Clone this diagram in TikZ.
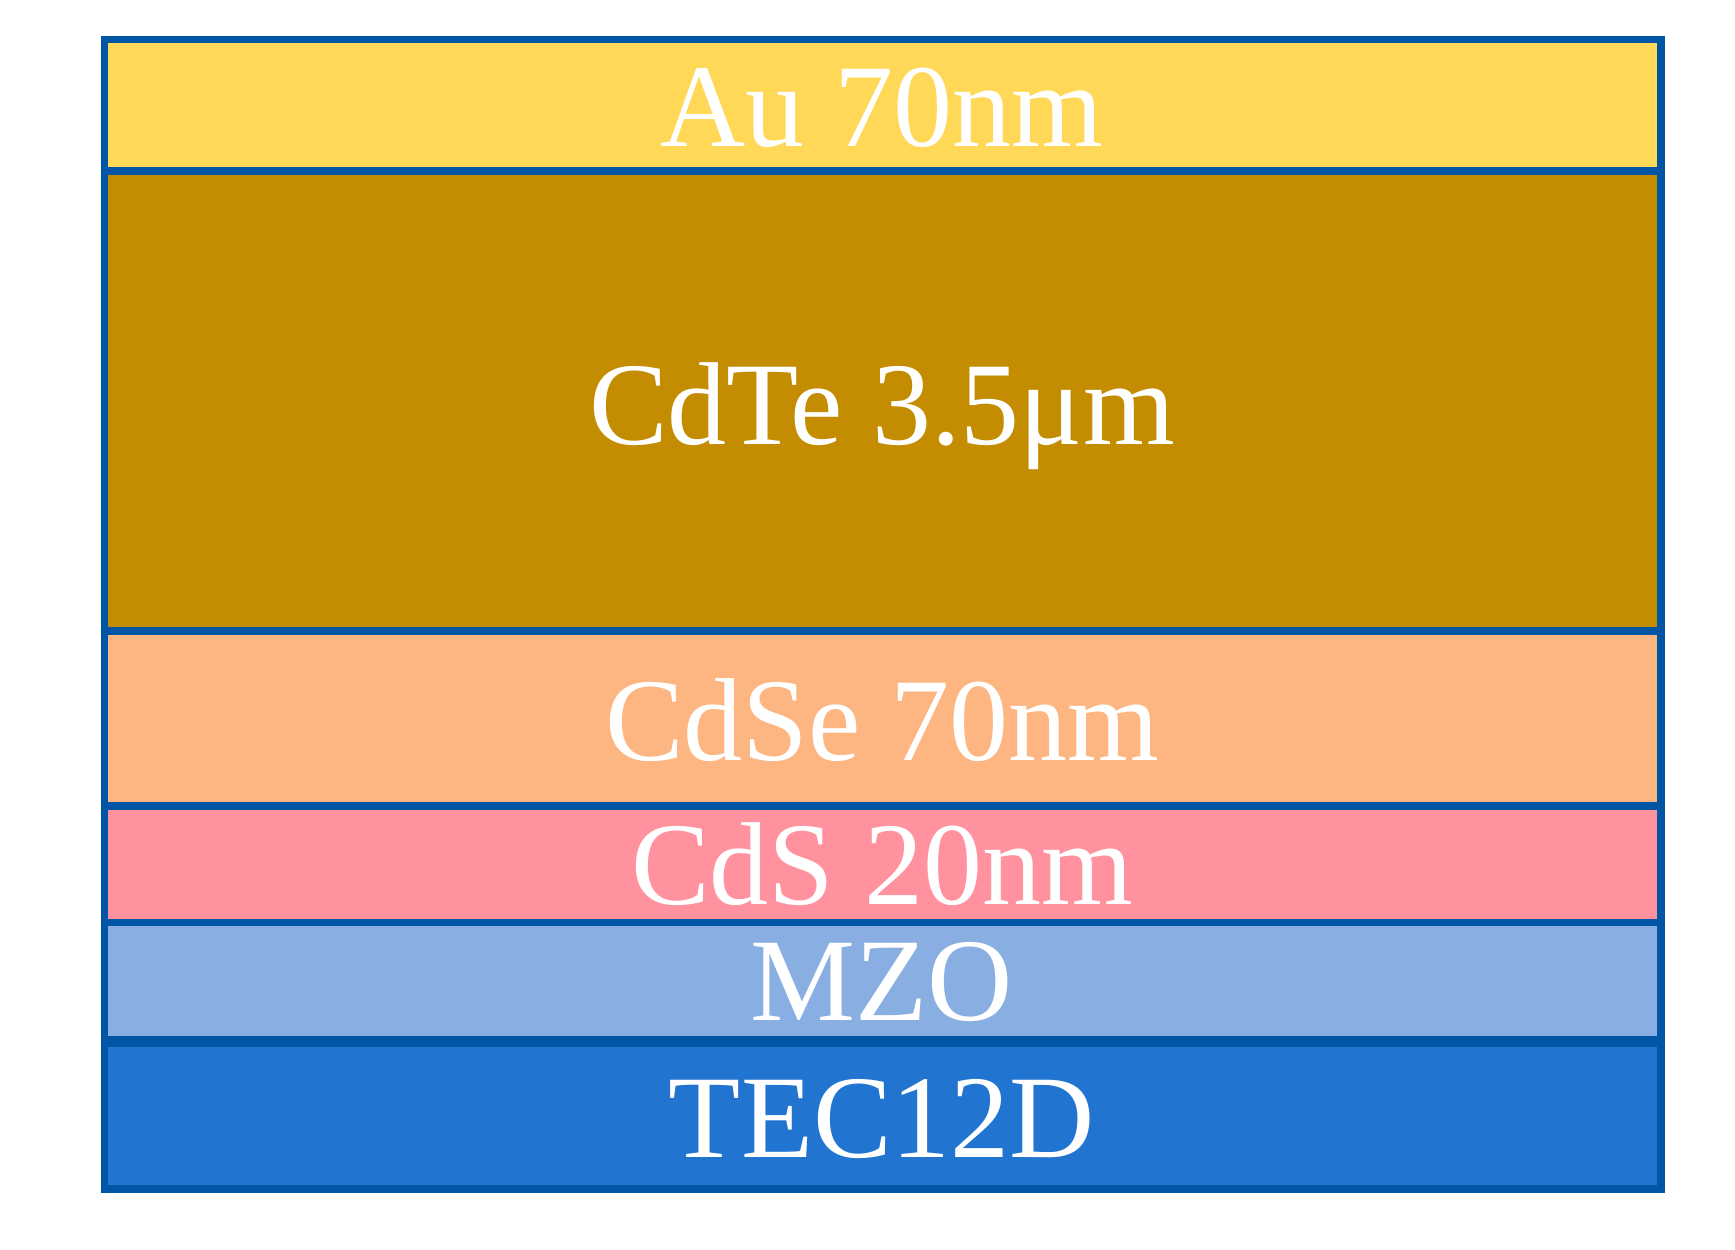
\documentclass[tikz,border=0pt]{standalone}
\usepackage{fontspec}
\setmainfont{Liberation Serif}
\definecolor{cAu}{RGB}{255,216,87}
\definecolor{cCdTe}{RGB}{196,140,0}
\definecolor{cCdSe}{RGB}{253,181,129}
\definecolor{cCdS}{RGB}{255,146,158}
\definecolor{cMZO}{RGB}{136,174,226}
\definecolor{cTEC}{RGB}{33,117,208}
\definecolor{cEdge}{RGB}{0,85,165}
\tikzset{
  lbl/.style={anchor=base, text=white, inner sep=0pt, font=\fontsize{118}{120}\selectfont},
  sep/.style={draw=cEdge, line width=7.5pt},
}
\begin{document}
\begin{tikzpicture}[x=1pt,y=-1pt]
\useasboundingbox (0,0) rectangle (1735,1250);
% layers
\fill[cAu]   (104.5,39.5) rectangle (1661,171);
\fill[cCdTe] (104.5,171)  rectangle (1661,631);
\fill[cCdSe] (104.5,631)  rectangle (1661,806);
\fill[cCdS]  (104.5,806)  rectangle (1661,922.5);
\fill[cMZO]  (104.5,922.5) rectangle (1661,1041);
\fill[cTEC]  (104.5,1041) rectangle (1661,1189);
% separators
\draw[sep] (104.5,171) -- (1661,171);
\draw[sep] (104.5,631) -- (1661,631);
\draw[sep] (104.5,806) -- (1661,806);
\draw[sep] (104.5,922.5) -- (1661,922.5);
\draw[sep, line width=11pt] (104.5,1041) -- (1661,1041);
% outer frame
\draw[draw=cEdge, line width=7.5pt] (104.5,39.5) rectangle (1661,1189);
% labels
\node[lbl] (au)   at (882,146)  {Au 70nm};
\node[lbl] (cdte) at (882,444)  {CdTe 3.5μm};
\node[lbl] (cdse) at (882,760)  {CdSe 70nm};
\node[lbl] (cds)  at (882,904)  {CdS 20nm};
\node[lbl] (mzo)  at (882,1020) {MZO};
\node[lbl] (tec)  at (882,1157) {TEC12D};
\end{tikzpicture}
\end{document}
